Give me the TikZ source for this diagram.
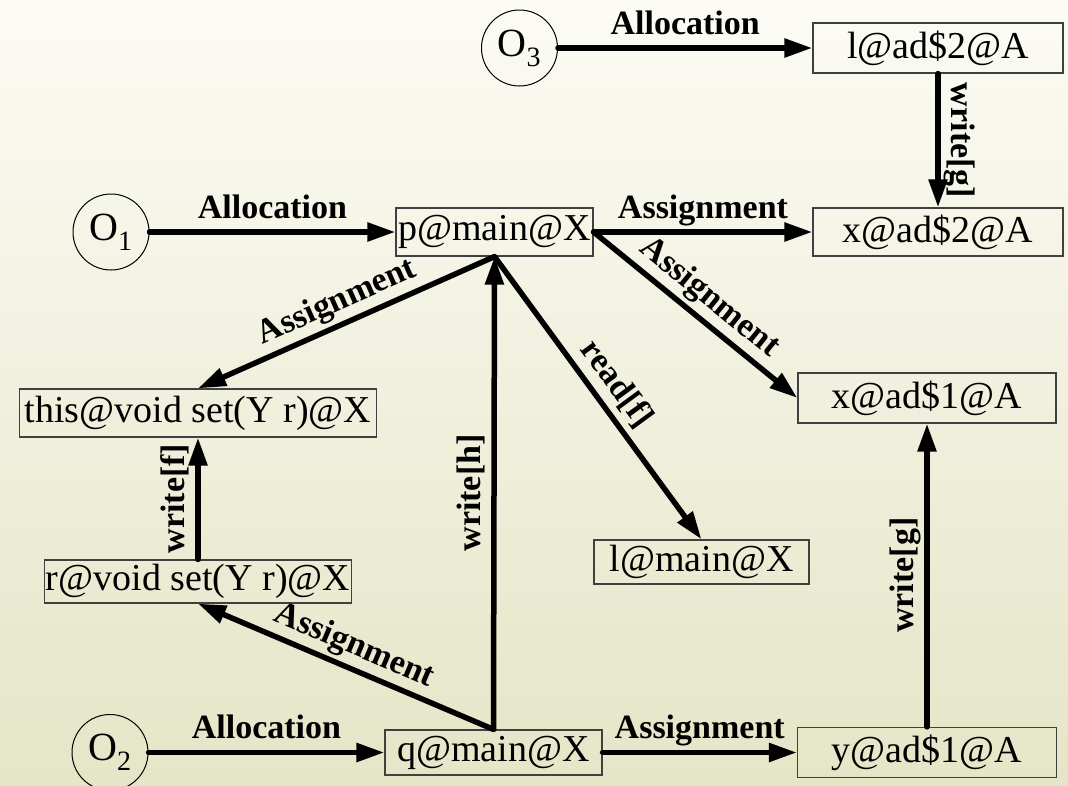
\documentclass[tikz,border=0pt]{standalone}
\usepackage{fontspec}
\setmainfont{Liberation Serif}
\usetikzlibrary{arrows.meta}
\definecolor{bgtop}{RGB}{252,251,245}
\definecolor{bgbot}{RGB}{229,229,199}
\definecolor{boxline}{RGB}{64,64,64}
\begin{document}
\begin{tikzpicture}[x=1pt, y=-1pt,
  obj/.style={circle, draw, line width=1pt, minimum size=76pt, inner sep=0pt, font=\fontsize{40}{40}\selectfont},
  var/.style={draw=boxline, line width=1.2pt, minimum height=48pt, inner sep=0pt, font=\fontsize{38}{40}\selectfont},
  flow/.style={line width=5.5pt, line cap=round, -{Triangle[length=28pt,width=18pt]}},
  lbl/.style={midway, sloped, above=8pt, inner sep=3pt, text depth=0pt, font=\fontsize{34}{34}\selectfont\bfseries}]
\shade[top color=bgtop, bottom color=bgbot] (0,0) rectangle (1068,785);
\useasboundingbox (0,0) rectangle (1068,785);

% objects and variables
\node[obj] (o3) at (519.5,48) {O\textsubscript{3}};
\node[var, minimum width=250pt, minimum height=50pt] (lad2) at (938,48) {l@ad\$2@A};
\node[var, minimum width=250pt] (xad2) at (938,232) {x@ad\$2@A};
\node[obj] (o1) at (111,232) {O\textsubscript{1}};
\node[var, minimum width=197pt] (pmain) at (494.5,232) {p@main@X};
\node[var, minimum width=258pt, minimum height=50pt] (xad1) at (927,398) {x@ad\$1@A};
\node[var, minimum width=357pt] (thisv) at (198,413) {this@void set(Y r)@X};
\node[var, minimum width=215pt, minimum height=44pt] (lmain) at (701.5,562) {l@main@X};
\node[var, minimum width=307pt, minimum height=43pt] (rv) at (198,581.5) {r@void set(Y r)@X};
\node[obj] (o2) at (110,752.5) {O\textsubscript{2}};
\node[var, minimum width=217pt, minimum height=45pt] (qmain) at (493.5,752.5) {q@main@X};
\node[var, minimum width=259pt, minimum height=50pt] (yad1) at (927,752.5) {y@ad\$1@A};

% edges
\draw[flow] (o3) -- (lad2) node[lbl]{Allocation};
\draw[flow] (lad2) -- (xad2) node[lbl]{write[g]};
\draw[flow] (o1) -- (pmain) node[lbl]{Allocation};
\draw[flow] (pmain) -- (xad2) node[lbl]{Assignment};
\draw[flow] (pmain.east) -- (xad1.west) node[lbl]{Assignment};
\draw[flow] (pmain.south) -- (thisv.north) node[lbl]{Assignment};
\draw[flow] (pmain.south) -- (lmain.north) node[lbl]{read[f]};
\draw[flow] (qmain.north) -- (pmain.south) node[lbl]{write[h]};
\draw[flow] (rv.north) -- (thisv.south) node[lbl]{write[f]};
\draw[flow] (qmain.north) -- (rv.south) node[lbl]{Assignment};
\draw[flow] (o2) -- (qmain) node[lbl]{Allocation};
\draw[flow] (qmain) -- (yad1) node[lbl]{Assignment};
\draw[flow] (yad1) -- (xad1) node[lbl]{write[g]};
\end{tikzpicture}
\end{document}
